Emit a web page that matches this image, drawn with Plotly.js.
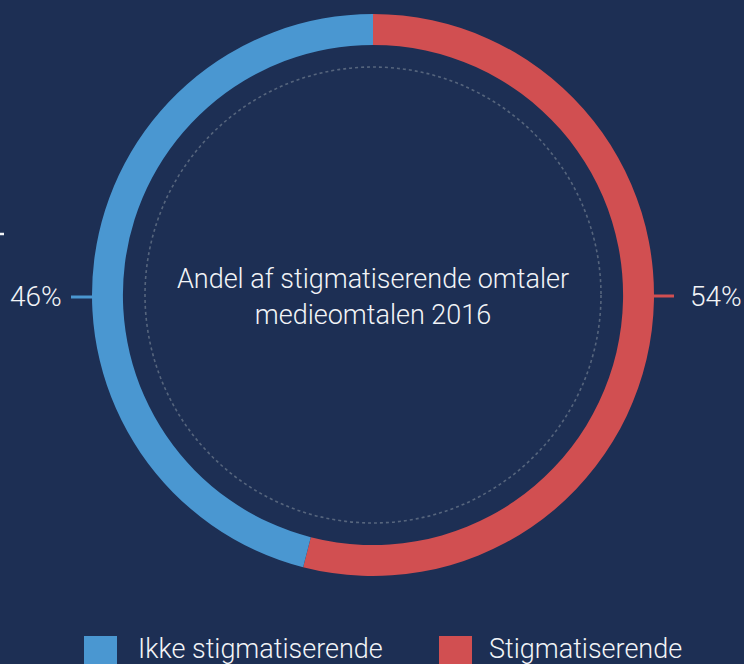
<!DOCTYPE html>
<html>
<head>
<meta charset="utf-8">
<script src="https://cdn.plot.ly/plotly-3.0.1.min.js"></script>
<style>
  html, body { margin: 0; padding: 0; background: #1d2f54; }
  #chart { width: 744px; height: 664px; }
</style>
</head>
<body>
<div id="chart"></div>
<script>
// Données
const labels = ['Ikke stigmatiserende', 'Stigmatiserende'];
const values = [46, 54];
const colors = ['#4a97d1', '#d14f51'];
const centerTitle = ['Andel af stigmatiserende omtaler', 'medieomtalen 2016'];

const W = 744, H = 664;
const bg = '#1d2f54';
const txt = '#f2f4f7';
const font = 'Roboto, "Noto Sans", sans-serif';

// Géométrie du donut (pixels)
const cx = 373, cy = 295, R = 281, rDots = 228;
const px = x => x / W;
const py = y => 1 - y / H;

const total = values.reduce((a, b) => a + b, 0);
const pct = values.map(v => Math.round(v / total * 100) + '%');

// rouge part de midi vers la droite, bleu complète à gauche
const trace = {
  type: 'pie',
  labels: labels.slice().reverse(),
  values: values.slice().reverse(),
  marker: { colors: colors.slice().reverse(), line: { width: 0 } },
  hole: 0.89,
  sort: false,
  direction: 'clockwise',
  rotation: 0,
  textinfo: 'none',
  hoverinfo: 'label+percent',
  showlegend: false,
  domain: { x: [px(cx - R), px(cx + R)], y: [py(cy + R), py(cy - R)] },
  title: {
    text: centerTitle.join('<br>'),
    position: 'middle center',
    font: { family: font, size: 27, color: txt, weight: 300 }
  }
};

// Étiquettes de pourcentage et traits
const annotations = [
  { x: px(64), y: py(296), xref: 'paper', yref: 'paper', text: pct[0], showarrow: false,
    xanchor: 'right', yanchor: 'middle', font: { family: font, size: 28, color: txt, weight: 300 } },
  { x: px(688), y: py(296), xref: 'paper', yref: 'paper', text: pct[1], showarrow: false,
    xanchor: 'left', yanchor: 'middle', font: { family: font, size: 28, color: txt, weight: 300 } }
];

const shapes = [
  // cercle pointillé intérieur
  { type: 'circle', xref: 'paper', yref: 'paper', layer: 'below',
    x0: px(cx - rDots), x1: px(cx + rDots), y0: py(cy + rDots), y1: py(cy - rDots),
    line: { color: '#56657d', width: 1.6, dash: 'dot' } },
  { type: 'line', xref: 'paper', yref: 'paper', x0: px(71), x1: px(cx - R + 2), y0: py(297), y1: py(297),
    line: { color: colors[0], width: 3 } },
  { type: 'line', xref: 'paper', yref: 'paper', x0: px(cx + R - 2), x1: px(674), y0: py(296), y1: py(296),
    line: { color: colors[1], width: 3 } },
  // petit trait blanc coupé à gauche
  { type: 'line', xref: 'paper', yref: 'paper', x0: 0, x1: px(4), y0: py(234), y1: py(234),
    line: { color: txt, width: 2.5 } }
];

// Légende dessinée à la main (carrés plus grands que ceux de Plotly)
const legendX = [84, 439];
const legendTextX = [136, 487];
labels.forEach((lab, i) => {
  shapes.push({ type: 'rect', xref: 'paper', yref: 'paper',
    x0: px(legendX[i]), x1: px(legendX[i] + 33), y0: py(670), y1: py(636),
    fillcolor: colors[i], line: { width: 0 } });
  annotations.push({ x: px(legendTextX[i]), y: py(667), xref: 'paper', yref: 'paper', text: lab,
    showarrow: false, xanchor: 'left', yanchor: 'bottom',
    font: { family: font, size: 27, color: txt, weight: 300 } });
});

const layout = {
  width: W,
  height: H,
  margin: { l: 0, r: 0, t: 0, b: 0 },
  paper_bgcolor: bg,
  plot_bgcolor: bg,
  showlegend: false,
  annotations: annotations,
  shapes: shapes
};

Plotly.newPlot('chart', [trace], layout, { displayModeBar: false, staticPlot: true });
</script>
</body>
</html>
